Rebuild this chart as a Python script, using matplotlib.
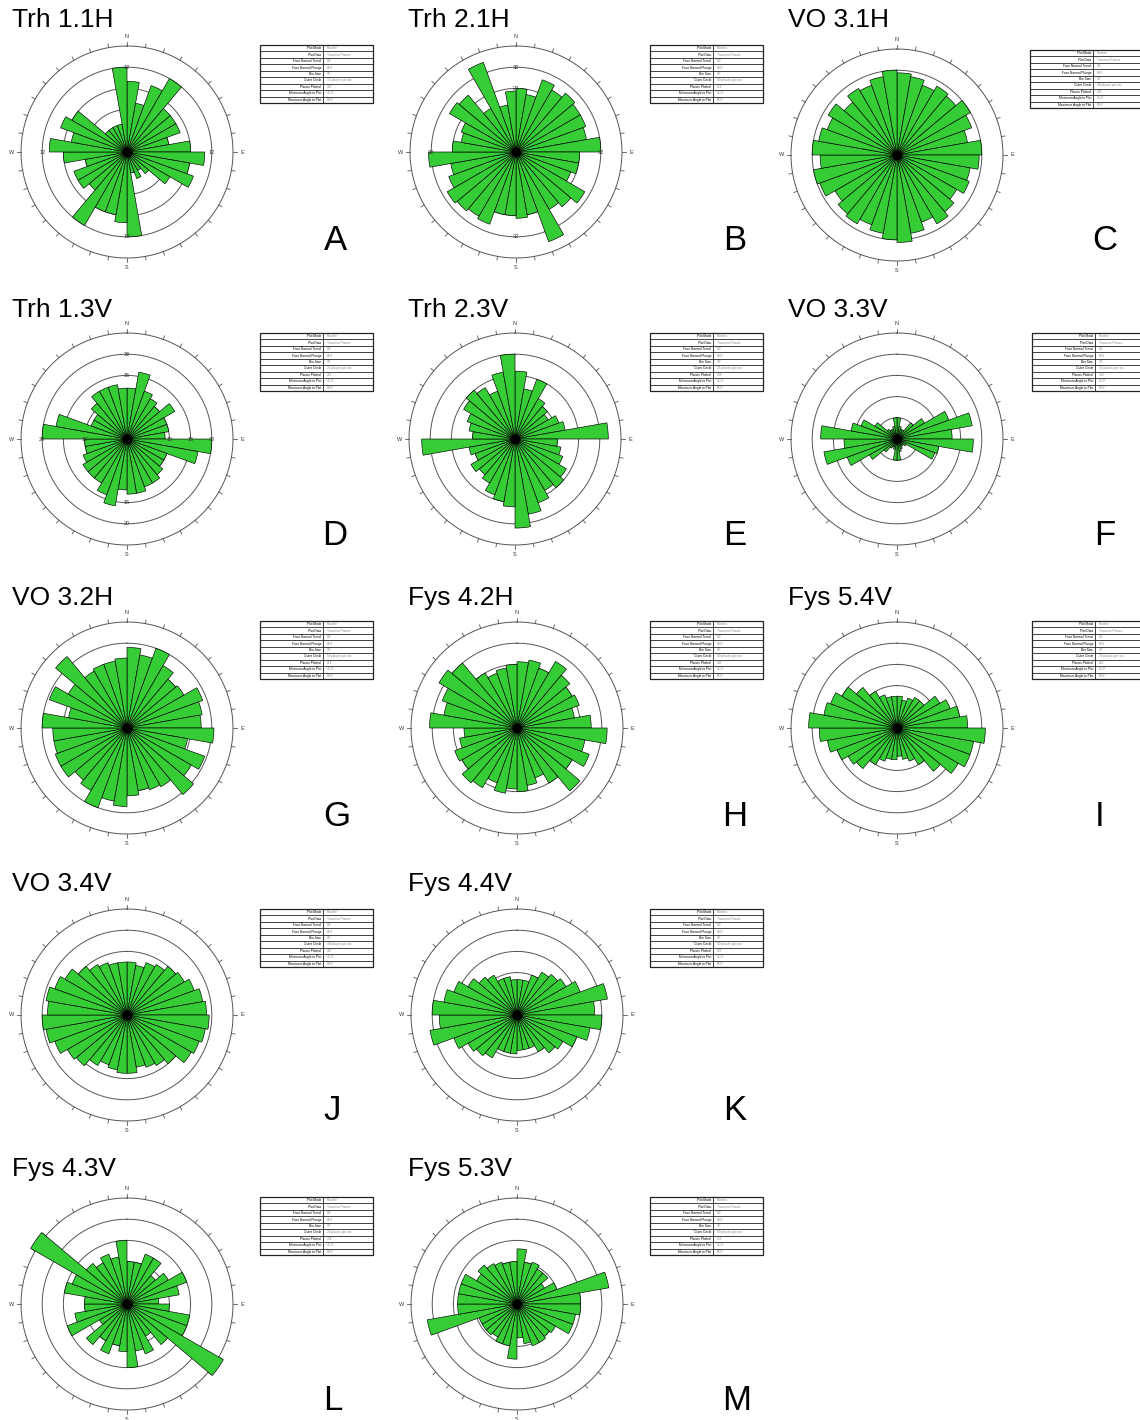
import matplotlib
matplotlib.use("Agg")
import matplotlib.pyplot as plt
import numpy as np

plt.rcParams['font.family'] = ['Liberation Sans', 'DejaVu Sans']

# ---------------- data ----------------
titles = ["Trh 1.1H", "Trh 2.1H", "VO 3.1H",
          "Trh 1.3V", "Trh 2.3V", "VO 3.3V",
          "VO 3.2H", "Fys 4.2H", "Fys 5.4V",
          "VO 3.4V", "Fys 4.4V",
          "Fys 4.3V", "Fys 5.3V"]
letters = ["A", "B", "C", "D", "E", "F", "G", "H", "I", "J", "K", "L", "M"]

# counts per 10 degree bin, clockwise from north (0-10, 10-20, ...)
counts_A = [10, 7, 10, 12, 8, 8, 8, 6, 9, 11, 9, 10, 7, 4, 3, 4, 3, 12,
            10, 9, 9, 12, 7, 8, 8, 6, 9, 11, 8, 10, 9, 4, 4, 4, 4, 12]
counts_B = [24, 22, 29, 27, 29, 28, 28, 27, 32, 24, 24, 22, 30, 27, 25, 36, 24, 25,
            24, 24, 29, 28, 29, 30, 27, 25, 33, 24, 21, 22, 29, 28, 19, 36, 18, 23]
counts_C = [31, 30, 28, 30, 29, 32, 30, 27, 32, 31, 28, 29, 26, 28, 30, 27, 30, 33,
            32, 30, 28, 30, 29, 27, 31, 32, 29, 32, 30, 28, 30, 26, 29, 28, 30, 32]
counts_D = [12, 16, 12, 11, 10, 13, 10, 10, 9, 20, 17, 10, 10, 11, 12, 12, 13, 13,
            12, 16, 14, 12, 12, 12, 11, 10, 10, 20, 17, 9, 9, 11, 13, 13, 13, 12]
counts_E = [16, 12, 15, 11, 10, 9, 11, 12, 22, 10, 11, 12, 14, 15, 14, 16, 18, 21,
            16, 15, 14, 12, 11, 12, 10, 11, 22, 10, 11, 12, 14, 15, 14, 12, 16, 20]
counts_F = [10, 6, 5, 5, 10, 15, 26, 36, 26, 36, 20, 19, 5, 4, 4, 5, 6, 10,
            10, 5, 4, 5, 8, 15, 25, 35, 25, 36, 22, 18, 12, 6, 5, 5, 6, 10]
counts_G = [38, 35, 40, 34, 30, 31, 38, 36, 35, 41, 29, 39, 35, 41, 32, 31, 30, 32,
            37, 35, 40, 34, 32, 36, 36, 35, 35, 40, 28, 39, 32, 44, 31, 32, 32, 33]
counts_H = [25, 26, 24, 29, 26, 24, 25, 22, 28, 34, 26, 29, 24, 31, 24, 20, 22, 24,
            23, 25, 22, 26, 27, 24, 25, 22, 20, 33, 28, 30, 34, 32, 24, 22, 23, 24]
counts_I = [9, 8, 9, 10, 10, 14, 16, 18, 20, 25, 22, 22, 20, 16, 12, 10, 9, 8,
            9, 9, 10, 12, 15, 16, 18, 20, 22, 25, 21, 20, 18, 15, 12, 10, 9, 9]
counts_J = [20, 19, 21, 22, 24, 25, 27, 29, 30, 31, 30, 29, 28, 24, 22, 21, 20, 22,
            22, 21, 20, 22, 25, 26, 29, 31, 32, 30, 31, 29, 27, 24, 22, 21, 20, 20]
counts_K = [10, 10, 12, 14, 15, 16, 19, 26, 22, 24, 21, 18, 15, 14, 12, 10, 10, 10,
            11, 11, 11, 14, 15, 16, 19, 25, 22, 24, 21, 19, 16, 14, 13, 11, 11, 10]
counts_L = [8, 8, 10, 10, 7, 9, 12, 10, 6, 8, 12, 12, 21, 10, 7, 10, 9, 12,
            9, 8, 10, 8, 10, 6, 12, 10, 8, 8, 12, 11, 21, 10, 9, 10, 9, 12]
counts_M = [26, 20, 21, 19, 19, 15, 20, 44, 30, 30, 28, 28, 21, 20, 21, 21, 19, 16,
            26, 20, 20, 18, 19, 19, 19, 43, 28, 28, 28, 28, 22, 24, 22, 21, 20, 20]

# count value of the outer circle of each rosette
outer_circle = [15, 40, 40, 25, 25, 50, 50, 40, 30, 40, 30, 20, 50]

# ring labels (compass direction, value)
ring_labels_A = [(0, 12), (90, 12), (180, 12), (270, 12)]
ring_labels_B = [(0, 32), (180, 32), (0, 24), (90, 32), (270, 32)]
ring_labels_D = [(0, 15), (0, 20), (180, 15), (180, 20), (90, 10), (90, 15),
                 (90, 20), (270, 20), (270, 10)]

table_rows = ["Plot Mode", "Plot Data", "Face Normal Trend", "Face Normal Plunge",
              "Bin Size", "Outer Circle", "Planes Plotted",
              "Minimum Angle to Plot", "Maximum Angle to Plot"]
planes_plotted = [162, 412, 498, 221, 198, 143, 614, 402, 281, 487, 302, 174, 356]

all_counts = [counts_A, counts_B, counts_C, counts_D, counts_E, counts_F, counts_G,
              counts_H, counts_I, counts_J, counts_K, counts_L, counts_M]
all_ring_labels = [ring_labels_A, ring_labels_B, [], ring_labels_D] + [[]] * 9

# ---------------- layout (pixels) ----------------
W, H = 1140, 1420
fig = plt.figure(figsize=(W / 100, H / 100), dpi=100)

centers = [(127, 152), (516, 152), (897, 155),
           (127, 439), (515, 439), (897, 439),
           (127, 728), (517, 728), (897, 728),
           (127, 1015), (517, 1015),
           (127, 1304), (517, 1304)]
title_pos = [(12, 20), (408, 20), (788, 20),
             (12, 310), (408, 310), (788, 310),
             (12, 598), (408, 598), (788, 598),
             (12, 884), (408, 884),
             (12, 1169), (408, 1169)]
letter_pos = [(335, 240), (735, 240), (1105, 240),
              (335, 535), (735, 535), (1105, 535),
              (337, 817), (735, 817), (1100, 817),
              (332, 1110), (735, 1110),
              (333, 1400), (737, 1400)]
table_pos = [(260, 45), (650, 45), (1030, 50),
             (260, 333), (650, 333), (1032, 333),
             (260, 621), (650, 621), (1032, 621),
             (260, 909), (650, 909),
             (260, 1197), (650, 1197)]

R = 106          # outer circle radius in px
PAD = 1.16       # axes radius relative to outer circle
GREEN = '#35cc35'
GREY = '#555555'


def rose(cx, cy, counts, outer, labels):
    half = R * PAD
    ax = fig.add_axes([(cx - half) / W, (H - cy - half) / H, 2 * half / W, 2 * half / H],
                      projection='polar')
    ax.set_theta_zero_location('N')
    ax.set_theta_direction(-1)
    ax.set_axis_off()
    ax.set_ylim(0, outer * PAD)
    t = np.linspace(0, 2 * np.pi, 361)
    for f in (0.2, 0.4, 0.6, 0.8):
        ax.plot(t, np.full_like(t, f * outer), color=GREY, lw=0.7, zorder=1)
    ax.plot(t, np.full_like(t, outer), color=GREY, lw=0.7, zorder=1)
    theta = np.deg2rad(np.arange(0, 360, 10))
    ax.bar(theta, counts, width=np.deg2rad(10), align='edge', color=GREEN,
           edgecolor='black', linewidth=0.45, zorder=3)
    ax.plot([0], [0], 'o', color='black', ms=6, zorder=4)
    for d in range(0, 360, 10):
        ax.plot([np.deg2rad(d)] * 2, [outer, outer * 1.035], color=GREY, lw=0.6)
    for d, s in zip((0, 90, 180, 270), "NESW"):
        ax.text(np.deg2rad(d), outer * 1.085, s, fontsize=4, color='#333333',
                ha='center', va='center')
    for d, v in labels:
        ax.text(np.deg2rad(d), v, str(v), fontsize=4, color='#333333',
                ha='center', va='center', zorder=5)


def info_table(x0, y0, vals):
    tw, th = 113, 58
    ax = fig.add_axes([x0 / W, (H - y0 - th) / H, tw / W, th / H])
    ax.set_xlim(0, 1)
    ax.set_ylim(9, 0)
    ax.set_axis_off()
    ax.add_patch(plt.Rectangle((0, 0), 1, 9, fill=False, lw=0.9, ec='#222222',
                               clip_on=False))
    for k in range(1, 9):
        ax.plot([0, 1], [k, k], color='#222222', lw=0.6)
    ax.plot([0.56, 0.56], [0, 9], color='#222222', lw=0.6)
    for k, (lab, val) in enumerate(zip(table_rows, vals)):
        ax.text(0.54, k + 0.5, lab, fontsize=2.3, ha='right', va='center')
        ax.text(0.59, k + 0.5, val, fontsize=2.3, ha='left', va='center', color='#888888')


for i in range(len(titles)):
    cx, cy = centers[i]
    rose(cx, cy, all_counts[i], outer_circle[i], all_ring_labels[i])
    tx, ty = title_pos[i]
    fig.text(tx / W, 1 - ty / H, titles[i], fontsize=19, ha='left', va='center')
    lx, ly = letter_pos[i]
    fig.text(lx / W, 1 - ly / H, letters[i], fontsize=25, ha='center', va='center')
    vals = ["Rosette", "Traverse Planes", "0.0", "90.0", "10\u00b0",
            "%d planes per arc" % outer_circle[i], str(planes_plotted[i]),
            "45.0\u00b0", "90.0\u00b0"]
    x0, y0 = table_pos[i]
    info_table(x0, y0, vals)

fig.savefig("out.png", dpi=100)
